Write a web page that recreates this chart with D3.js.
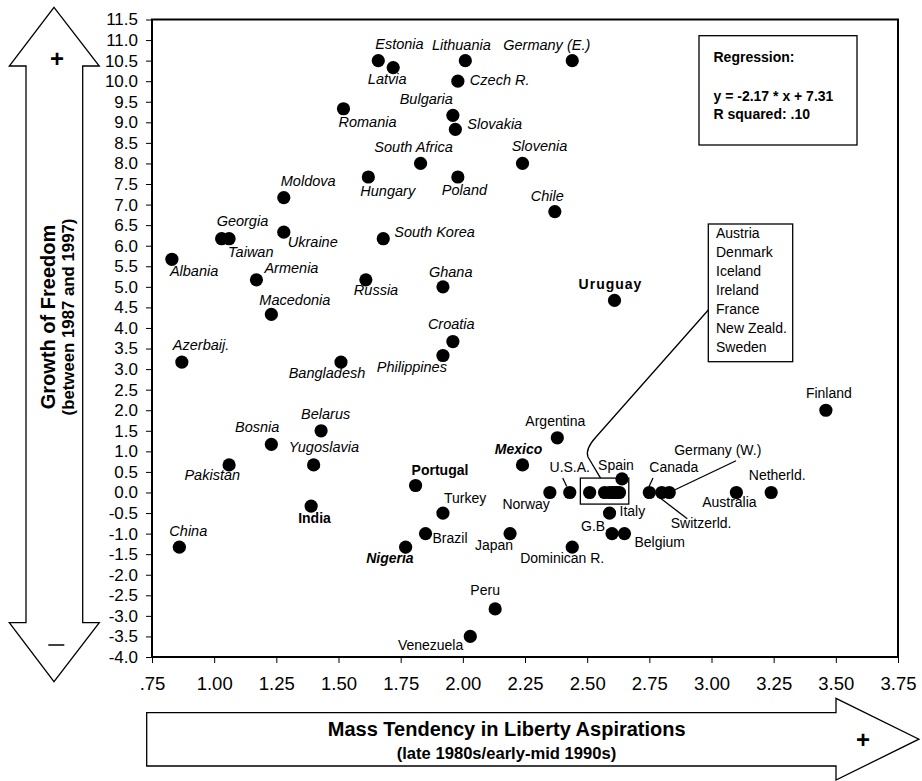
<!DOCTYPE html>
<html>
<head>
<meta charset="utf-8">
<script src="https://cdn.jsdelivr.net/npm/d3@7"></script>
<style>
  html, body { margin: 0; padding: 0; background: #fff; }
  svg { display: block; font-family: "Liberation Sans", Arial, Helvetica, sans-serif; }
</style>
</head>
<body>
<svg id="chart" width="922" height="781"></svg>
<script>
// Country names, mass tendency in liberty aspirations (x) and growth of freedom (y)
const countries = [
  "Estonia", "Latvia", "Lithuania", "Germany (E.)", "Czech R.", "Romania", "Bulgaria", "Slovakia",
  "South Africa", "Slovenia", "Hungary", "Poland", "Moldova", "Chile", "Georgia", "Taiwan",
  "Ukraine", "South Korea", "Albania", "Armenia", "Russia", "Ghana", "Macedonia", "Croatia",
  "Philippines", "Azerbaij.", "Bangladesh", "Uruguay", "Belarus", "Bosnia", "Yugoslavia", "Pakistan",
  "India", "China", "Portugal", "Turkey", "Brazil", "Nigeria", "Venezuela", "Peru",
  "Finland", "Argentina", "Mexico", "Norway", "U.S.A.", "Spain", "Italy", "G.B.",
  "Belgium", "Japan", "Dominican R.", "Canada", "Switzerld.", "Germany (W.)", "Australia", "Netherld.",
  "Austria", "Denmark", "Iceland", "Ireland", "France", "New Zeald.", "Sweden"
];
const libertyAspirations = [
  1.66, 1.72, 2.01, 2.44, 1.98, 1.52, 1.96, 1.97,
  1.83, 2.24, 1.62, 1.98, 1.28, 2.37, 1.03, 1.06,
  1.28, 1.68, 0.83, 1.17, 1.61, 1.92, 1.23, 1.96,
  1.92, 0.87, 1.51, 2.61, 1.43, 1.23, 1.40, 1.06,
  1.39, 0.86, 1.81, 1.92, 1.85, 1.77, 2.03, 2.13,
  3.46, 2.38, 2.24, 2.35, 2.43, 2.64, 2.59, 2.60,
  2.65, 2.19, 2.44, 2.75, 2.80, 2.83, 3.10, 3.24,
  2.51, 2.57, 2.59, 2.60, 2.61, 2.62, 2.63
];
const freedomGrowth = [
  10.5, 10.33, 10.5, 10.5, 10.0, 9.33, 9.17, 8.83,
  8.0, 8.0, 7.67, 7.67, 7.17, 6.83, 6.17, 6.17,
  6.33, 6.17, 5.67, 5.17, 5.17, 5.0, 4.33, 3.67,
  3.33, 3.17, 3.17, 4.67, 1.5, 1.17, 0.67, 0.67,
  -0.33, -1.33, 0.17, -0.5, -1.0, -1.33, -3.5, -2.83,
  2.0, 1.33, 0.67, 0.0, 0.0, 0.33, -0.5, -1.0,
  -1.0, -1.0, -1.33, 0.0, 0.0, 0.0, 0.0, 0.0,
  0.0, 0.0, 0.0, 0.0, 0.0, 0.0, 0.0
];
// Countries that share one spot and are listed in a separate box
const groupedCountries = ["Austria", "Denmark", "Iceland", "Ireland", "France", "New Zeald.", "Sweden"];

const xTicks = [0.75, 1.00, 1.25, 1.50, 1.75, 2.00, 2.25, 2.50, 2.75, 3.00, 3.25, 3.50, 3.75];
const yTicks = d3.range(-4, 11.51, 0.5);

const regressionLines = ["Regression:", "", "y = -2.17 * x + 7.31", "R squared: .10"];
const xTitle = "Mass Tendency in Liberty Aspirations";
const xSubtitle = "(late 1980s/early-mid 1990s)";
const yTitle = "Growth of Freedom";
const ySubtitle = "(between 1987 and 1997)";

// Label placement: [anchor, dx, dy, style] relative to the dot; style i/b/bi/n
const labelPlacement = {
  "Estonia": ["start", -3, -12, "i"], "Latvia": ["middle", -6, 16, "i"],
  "Lithuania": ["middle", -4, -11, "i"], "Germany (E.)": ["end", 18, -11, "i"],
  "Czech R.": ["start", 12, 4, "i"], "Romania": ["start", -5, 18, "i"],
  "Bulgaria": ["end", 0, -11, "i"], "Slovakia": ["start", 12, 0, "i"],
  "South Africa": ["middle", -7, -11, "i"], "Slovenia": ["middle", 17, -12, "i"],
  "Hungary": ["start", -8, 19, "i"], "Poland": ["start", -16, 18, "i"],
  "Moldova": ["start", -3, -12, "i"], "Chile": ["end", 9, -11, "i"],
  "Georgia": ["start", -5, -13, "i"], "Taiwan": ["start", -1, 18, "i"],
  "Ukraine": ["start", 4, 15, "i"], "South Korea": ["start", 11, -2, "i"],
  "Albania": ["start", -2, 17, "i"], "Armenia": ["start", 8, -7, "i"],
  "Russia": ["start", -12, 15, "i"], "Ghana": ["start", -14, -10, "i"],
  "Macedonia": ["start", -12, -9, "i"], "Croatia": ["start", -25, -13, "i"],
  "Philippines": ["end", 4, 16, "i"], "Azerbaij.": ["start", -9, -12, "i"],
  "Bangladesh": ["middle", -14, 16, "i"], "Belarus": ["start", -20, -12, "i"],
  "Bosnia": ["end", 8, -12, "i"], "Yugoslavia": ["start", -25, -13, "i"],
  "Pakistan": ["end", 11, 15, "i"], "China": ["start", -10, -11, "i"],
  "India": ["start", -13, 17, "b"], "Portugal": ["start", -4, -10, "b"],
  "Uruguay": ["middle", -4, -11, "b"], "Mexico": ["middle", -4, -11, "bi"],
  "Nigeria": ["end", 8, 16, "bi"], "Turkey": ["start", 1, -10, "n"],
  "Brazil": ["start", 7, 9, "n"], "Venezuela": ["end", -7, 14, "n"],
  "Peru": ["middle", -10, -14, "n"], "Finland": ["middle", 3, -12, "n"],
  "Argentina": ["middle", -2, -12, "n"], "U.S.A.": ["middle", 0, -20, "n"],
  "Spain": ["middle", -6, -9, "n"], "Canada": ["start", 0, -20, "n"],
  "Germany (W.)": ["start", 5, -37, "n"], "Switzerld.": ["start", 9, 36, "n"],
  "Norway": ["end", 0, 17, "n"], "Netherld.": ["middle", 6, -12, "n"],
  "Australia": ["middle", -7, 15, "n"], "Italy": ["start", 10, 3, "n"],
  "G.B.": ["end", -3, -3, "n"], "Belgium": ["start", 10, 13, "n"],
  "Japan": ["end", 3, 16, "n"], "Dominican R.": ["middle", -10, 16, "n"]
};
// Short leader lines from a label to its dot: [x1, y1, x2, y2] relative to the dot
const leaders = {
  "U.S.A.": [-7, -14.4, -3, -6],
  "Canada": [3.7, -14.4, -0.3, -6],
  "Germany (W.)": [66.8, -31.7, 5.8, -2.7],
  "Switzerld.": [-3.5, 4, 25.5, 26.3]
};

const svg = d3.select("#chart");
const margin = { left: 152, top: 19.5, right: 898, bottom: 657 };
const x = d3.scaleLinear().domain([0.75, 3.75]).range([margin.left, margin.right]);
const y = d3.scaleLinear().domain([-4, 11.5]).range([margin.bottom, margin.top]);

const points = countries.map((c, i) => ({ name: c, x: libertyAspirations[i], y: freedomGrowth[i] }));

// Axes
const fmtY = d => d3.format(".1f")(d).replace("−", "-");
const fmtX = d => d3.format(".2f")(d).replace(/^0/, "");

const yAxis = svg.append("g")
  .attr("transform", `translate(${margin.left},0)`)
  .call(d3.axisLeft(y).tickValues(yTicks).tickFormat(fmtY).tickSize(6).tickPadding(8));
yAxis.select(".domain").remove();
yAxis.selectAll("line").attr("stroke", "#000").attr("stroke-width", 1);
yAxis.selectAll("text").attr("font-size", 17).attr("fill", "#000")
  .attr("font-family", "Liberation Sans, Arial, sans-serif");

const xAxis = svg.append("g")
  .attr("transform", `translate(0,${margin.bottom})`)
  .call(d3.axisBottom(x).tickValues(xTicks).tickFormat(fmtX).tickSize(6).tickPadding(14));
xAxis.select(".domain").remove();
xAxis.selectAll("line").attr("stroke", "#000").attr("stroke-width", 1);
xAxis.selectAll("text").attr("font-size", 18.5).attr("fill", "#000")
  .attr("font-family", "Liberation Sans, Arial, sans-serif");

// Plot frame
svg.append("rect")
  .attr("x", margin.left).attr("y", margin.top)
  .attr("width", margin.right - margin.left).attr("height", margin.bottom - margin.top)
  .attr("fill", "none").attr("stroke", "#000").attr("stroke-width", 2);

// Regression box
const regBox = svg.append("g");
regBox.append("rect").attr("x", 699).attr("y", 35.7).attr("width", 158).attr("height", 109.3)
  .attr("fill", "#fff").attr("stroke", "#000").attr("stroke-width", 1.3);
const regBaselines = [61.7, 81, 100.7, 118.5];
regressionLines.forEach((t, i) => {
  if (!t) return;
  regBox.append("text").attr("x", 713.5).attr("y", regBaselines[i])
    .attr("font-size", 14).attr("font-weight", "bold").text(t);
});

// Grouped countries: list box, marker rectangle and connector
const grouped = points.filter(p => groupedCountries.includes(p.name));
const gx0 = x(d3.min(grouped, p => p.x)) - 9.3;
const gx1 = x(d3.max(grouped, p => p.x)) + 9.3;
const gy = y(0);
const listG = svg.append("g");
listG.append("rect").attr("x", 708.3).attr("y", 224).attr("width", 84.4).attr("height", 137.7)
  .attr("fill", "#fff").attr("stroke", "#000").attr("stroke-width", 1.3);
groupedCountries.forEach((c, i) => {
  listG.append("text").attr("x", 716).attr("y", 238.3 + i * 19)
    .attr("font-size", 14).text(c);
});
listG.append("path")
  .attr("d", `M708.3,310 L596,437 Q585,449 588,457 L${(gx0 + gx1) / 2 - 4},${gy - 14.4}`)
  .attr("fill", "none").attr("stroke", "#000").attr("stroke-width", 1.3);
listG.append("rect").attr("x", gx0).attr("y", gy - 14.4).attr("width", gx1 - gx0).attr("height", 26)
  .attr("fill", "none").attr("stroke", "#000").attr("stroke-width", 1.3);

// Labels and leaders
const labelG = svg.append("g");
points.filter(p => labelPlacement[p.name]).forEach(p => {
  const [anchor, dx, dy, style] = labelPlacement[p.name];
  const t = labelG.append("text")
    .attr("x", x(p.x) + dx).attr("y", y(p.y) + dy)
    .attr("text-anchor", anchor)
    .attr("font-size", style === "i" ? 14.5 : 14)
    .attr("font-style", style.includes("i") ? "italic" : "normal")
    .attr("font-weight", style.includes("b") ? "bold" : "normal")
    .text(p.name);
  if (p.name === "Uruguay") t.attr("letter-spacing", 1);
  const l = leaders[p.name];
  if (l) {
    labelG.append("line")
      .attr("x1", x(p.x) + l[0]).attr("y1", y(p.y) + l[1])
      .attr("x2", x(p.x) + l[2]).attr("y2", y(p.y) + l[3])
      .attr("stroke", "#000").attr("stroke-width", 1.3);
  }
});

// Dots
svg.append("g").selectAll("circle").data(points).join("circle")
  .attr("cx", d => x(d.x)).attr("cy", d => y(d.y)).attr("r", 6.6).attr("fill", "#000");

// Vertical double arrow with the y title
const arrowStroke = { fill: "#fff", stroke: "#000", "stroke-width": 1.3 };
const vArrow = svg.append("path")
  .attr("d", "M54,7.3 L99.3,66 L82.7,66 L82.7,622.7 L99.3,622.7 L54,681.7 L9.3,622.7 L26,622.7 L26,66 L9.3,66 Z");
Object.entries(arrowStroke).forEach(([k, v]) => vArrow.attr(k, v));
svg.append("text").attr("x", 57).attr("y", 66.5).attr("text-anchor", "middle")
  .attr("font-size", 24).attr("font-weight", "bold").text("+");
svg.append("line").attr("x1", 48.3).attr("x2", 64.3).attr("y1", 645).attr("y2", 645)
  .attr("stroke", "#000").attr("stroke-width", 1.5);
svg.append("text").attr("transform", "translate(55,317) rotate(-90)").attr("text-anchor", "middle")
  .attr("font-size", 20).attr("font-weight", "bold").text(yTitle);
svg.append("text").attr("transform", "translate(73.5,317) rotate(-90)").attr("text-anchor", "middle")
  .attr("font-size", 16.8).attr("font-weight", "bold").text(ySubtitle);

// Horizontal arrow with the x title
const hArrow = svg.append("path")
  .attr("d", "M146.7,712.7 L836,712.7 L836,698.3 L918.9,739.2 L836,780 L836,766 L146.7,766 Z");
Object.entries(arrowStroke).forEach(([k, v]) => hArrow.attr(k, v));
svg.append("text").attr("x", 506.7).attr("y", 735.5).attr("text-anchor", "middle")
  .attr("font-size", 20).attr("font-weight", "bold").text(xTitle);
svg.append("text").attr("x", 506.5).attr("y", 759.3).attr("text-anchor", "middle")
  .attr("font-size", 16.6).attr("font-weight", "bold").text(xSubtitle);
svg.append("text").attr("x", 863).attr("y", 748).attr("text-anchor", "middle")
  .attr("font-size", 24).attr("font-weight", "bold").text("+");
</script>
</body>
</html>
